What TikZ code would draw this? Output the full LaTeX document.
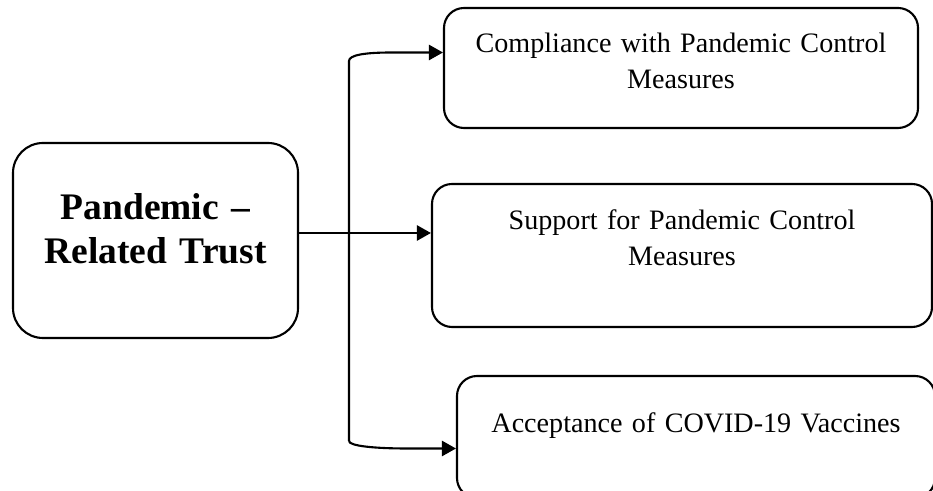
\documentclass[tikz,border=0pt]{standalone}
\usepackage{fontspec}
\setmainfont{Liberation Serif}
\usetikzlibrary{arrows.meta}
\tikzset{cause/.style={draw,line width=0.9pt,rounded corners=0.45cm,inner sep=0pt,align=center,anchor=base,font=\fontsize{16}{18.8}\selectfont\bfseries},
 outcome/.style={draw,line width=0.9pt,rounded corners=0.3cm,inner sep=0pt,align=center,anchor=base,font=\fontsize{12}{15.2}\selectfont},
 flow/.style={-{Triangle[length=6pt,width=6.5pt]},line width=0.9pt}}

\begin{document}
\begin{tikzpicture}[x=0.015cm,y=0.015cm]
\useasboundingbox (0,0) rectangle (933,491);
\clip (0,0) rectangle (933,491);
\node[cause,text width=4.275cm,text height=1.1445cm,text depth=1.7805cm](trust) at (155.5,271.7){Pandemic –\\Related Trust};
\node[outcome,text width=7.11cm,text height=0.6675cm,text depth=1.1325cm](comp) at (681,438.5){Compliance with Pandemic Control\\Measures};
\node[outcome,text width=7.5cm,text height=0.69cm,text depth=1.455cm](supp) at (682,261){Support for Pandemic Control\\Measures};
\node[outcome,text width=7.17cm,text height=0.855cm,text depth=0.975cm](vacc) at (696,58){Acceptance of COVID-19 Vaccines};
\coordinate (fork) at (349,258);\coordinate (top) at (349,430);\coordinate (bot) at (349,50);
\coordinate (topend) at (392,438.5);\coordinate (botend) at (407,42.5);
\draw[flow](trust.east |- fork)--(supp.west |- fork);
\draw[flow](bot)--(top)..controls (349,436) and (365,438.5)..(topend)--(comp.west |- topend);
\draw[flow](bot)..controls (349,45) and (375,42.5)..(botend)--(vacc.west |- botend);
\end{tikzpicture}
\end{document}
